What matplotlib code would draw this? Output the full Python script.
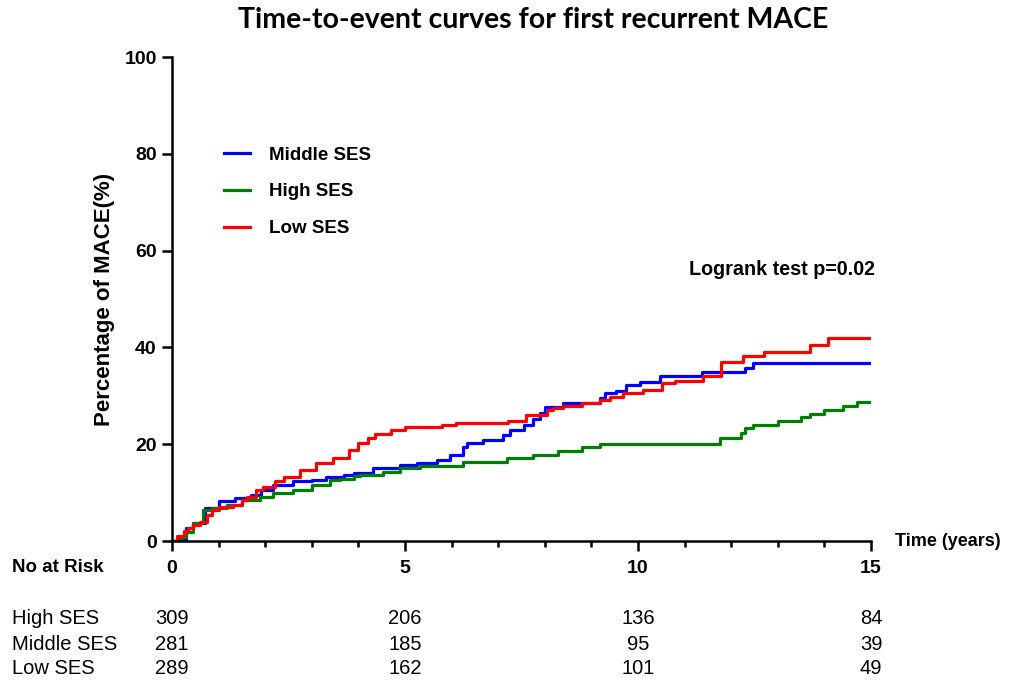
import matplotlib
matplotlib.use('Agg')
import matplotlib.pyplot as plt
import matplotlib.transforms as mtransforms
from matplotlib.ticker import MultipleLocator

plt.rcParams['font.family'] = ['Liberation Sans', 'DejaVu Sans']

# step curves (years, cumulative % with MACE)
low_t = [0, 0.1, 0.25, 0.35, 0.46, 0.6, 0.75, 0.85, 1.0, 1.3, 1.5, 1.6, 1.8, 1.95,
         2.2, 2.4, 2.75, 3.1, 3.45, 3.8, 4.0, 4.2, 4.35, 4.7, 5.0, 5.8, 6.1, 7.2,
         7.6, 8.04, 8.18, 8.39, 8.79, 9.18, 9.4, 9.68, 10.11, 10.51, 10.79, 11.4,
         11.77, 12.25, 12.7, 13.7, 14.08, 15]
low_v = [0, 1.0, 2.0, 2.6, 3.3, 4.0, 5.4, 6.4, 7.1, 7.4, 8.5, 9.0, 10.5, 11.2,
         12.3, 13.3, 14.7, 16.1, 17.1, 18.8, 20.2, 21.2, 22.2, 22.9, 23.6, 24.0, 24.4, 24.8,
         26.0, 27.1, 27.4, 27.9, 28.5, 29.1, 29.8, 30.6, 31.2, 32.6, 33.1, 34.0,
         37.0, 38.2, 39.1, 40.5, 41.9, 41.9]

mid_t = [0, 0.1, 0.3, 0.46, 0.7, 1.0, 1.35, 1.7, 1.9, 2.17, 2.6, 3.0, 3.3, 3.7, 3.9,
         4.32, 4.9, 5.25, 5.68, 5.97, 6.25, 6.33, 6.68, 7.11, 7.26, 7.55, 7.75, 7.9,
         8.0, 8.39, 9.18, 9.29, 9.53, 9.75, 10.04, 10.47, 11.37, 12.3, 12.47, 15]
mid_v = [0, 0.4, 2.6, 3.7, 6.8, 8.2, 8.8, 9.5, 10.5, 11.6, 12.3, 12.6, 13.3, 13.6, 14.0,
         15.0, 15.7, 16.1, 16.7, 17.8, 19.5, 20.2, 20.9, 21.9, 22.9, 24.0, 25.3, 26.4,
         27.7, 28.5, 29.5, 30.5, 31.0, 32.2, 32.9, 34.0, 35.0, 35.8, 36.7, 36.7]

high_t = [0, 0.2, 0.3, 0.46, 0.66, 0.85, 1.17, 1.5, 1.89, 2.17, 2.6, 3.0, 3.4, 3.6, 3.9,
          4.03, 4.53, 4.9, 5.32, 6.25, 7.19, 7.75, 8.28, 8.8, 9.18, 11.76, 12.2, 12.3,
          12.47, 13.0, 13.5, 13.7, 14.0, 14.4, 14.7, 15]
high_v = [0, 0.8, 1.8, 3.7, 6.4, 6.8, 7.4, 8.5, 9.2, 9.9, 10.5, 11.6, 12.6, 12.9, 13.4,
          13.6, 14.3, 15.0, 15.4, 16.4, 17.1, 17.8, 18.5, 19.4, 20.0, 21.3, 22.3, 23.3,
          24.0, 24.8, 25.6, 26.2, 27.1, 27.9, 28.8, 28.8]

risk_times = [0, 5, 10, 15]
risk_groups = ['High SES', 'Middle SES', 'Low SES']
risk_counts = [[309, 206, 136, 84],
               [281, 185, 95, 39],
               [289, 162, 101, 49]]

fig = plt.figure(figsize=(10.12, 6.82), dpi=100)
ax = fig.add_axes([0.17, 0.2067, 0.6907, 0.7097])

ax.step(mid_t, mid_v, where='post', color='#0000ff', lw=2.3, label='Middle SES')
ax.step(high_t, high_v, where='post', color='#008000', lw=2.3, label='High SES')
ax.step(low_t, low_v, where='post', color='#ff0000', lw=2.3, label='Low SES')

ax.set_xlim(0, 15)
ax.set_ylim(0, 100)
ax.spines['top'].set_visible(False)
ax.spines['right'].set_visible(False)
ax.spines['left'].set_linewidth(1.8)
ax.spines['bottom'].set_linewidth(1.8)
ax.xaxis.set_major_locator(MultipleLocator(5))
ax.xaxis.set_minor_locator(MultipleLocator(1))
ax.yaxis.set_major_locator(MultipleLocator(20))
ax.tick_params(which='major', length=7, width=1.8, labelsize=14, pad=4)
ax.tick_params(which='minor', length=4, width=1.8)
ax.tick_params(axis='x', which='major', pad=7)
for lab in ax.get_xticklabels() + ax.get_yticklabels():
    lab.set_fontweight('bold')

ax.set_ylabel('Percentage of MACE(%)', fontsize=16, fontweight='bold', labelpad=7)
fig.suptitle('Time-to-event curves for first recurrent MACE', x=0.527, y=0.99,
             fontsize=20.5, fontweight='bold', family=['Lato', 'DejaVu Sans'])

ax.legend(loc='upper left', bbox_to_anchor=(0.05, 0.85), frameon=False,
          prop={'size': 13.5, 'weight': 'bold'}, handlelength=1.4,
          handletextpad=1.0, labelspacing=1.05)

ax.text(1.005, 0.56, 'Logrank test p=0.02', transform=ax.transAxes, ha='right',
        va='center', fontsize=14.2, fontweight='bold')
ax.text(1.035, 0.0, 'Time (years)', transform=ax.transAxes, ha='left',
        va='center', fontsize=13, fontweight='bold')

# number at risk table
trans = mtransforms.blended_transform_factory(ax.transData, fig.transFigure)
fig.text(0.012, 1 - 568 / 682, 'No at Risk', ha='left', va='center',
         fontsize=13.5, fontweight='bold')
row_y = [619, 644, 669]
for grp, counts, py in zip(risk_groups, risk_counts, row_y):
    yf = 1 - py / 682
    fig.text(0.012, yf, grp, ha='left', va='center', fontsize=14.5)
    for t, n in zip(risk_times, counts):
        ax.text(t, yf, str(n), transform=trans, ha='center', va='center',
                fontsize=14.5, clip_on=False)

fig.savefig('out.png', dpi=100)
